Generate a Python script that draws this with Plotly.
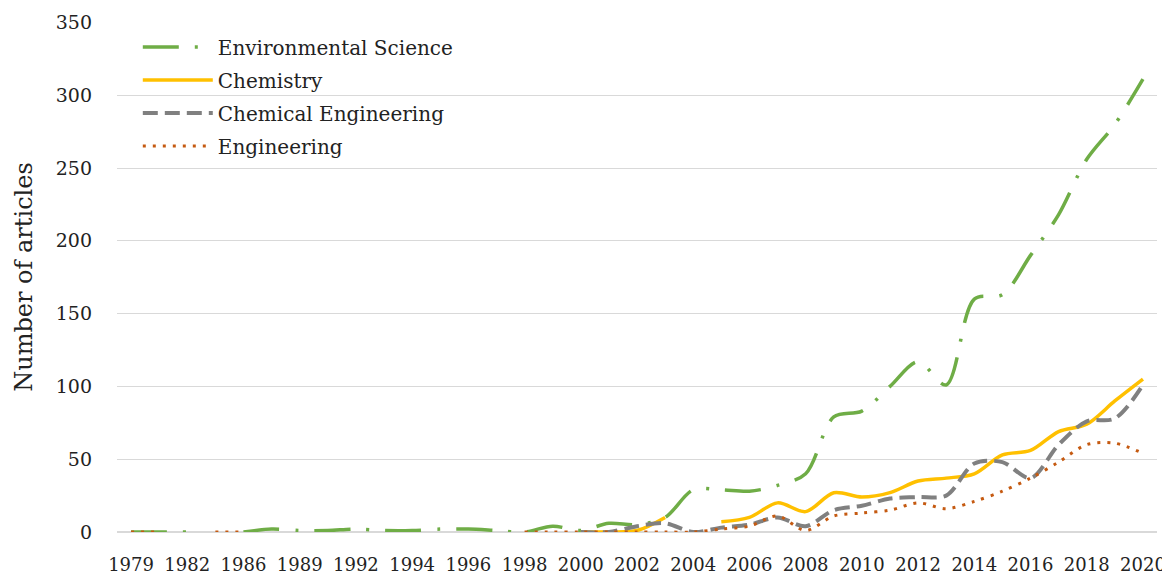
import plotly.graph_objects as go

# categories (the unlabeled ones between labeled years are guesses)
years = ["1979", "1981", "1982", "1984", "1986", "1987", "1989", "1990"] + [str(y) for y in range(1992, 2021)]

env_science = [0, 0, 0, None, 0, 2, 1, 1,
               2, 1, 1, 2, 2, 1, 0, 4, 1, 6, 5, 10, 29, 29, 28, 32, 40,
               79, 83, 100, 117, 101, 160, 163, 190, 218, 256, 280, 311]
chemistry = [None] * 16 + [0, 0, 1, 10, None, 7, 10, 20, 14,
                           27, 24, 27, 35, 37, 40, 53, 56, 69, 74, 90, 105]
chem_eng = [None] * 16 + [0, 0, 4, 6, 0, 3, 5, 10, 4,
                          15, 18, 23, 24, 25, 47, 48, 37, 60, 76, 78, 101]
engineering = [0, 0, None, 0, 0] + [None] * 9 + [0, 0, 0, 0, 0, 0, 0, 2, 4, 11, 1,
                                                 11, 13, 15, 20, 16, 21, 28, 37, 48, 60, 61, 54]

series = [
    ("Environmental Science", env_science, "#6FAD46", 3.5, "36px,16px,3px,16px"),
    ("Chemistry", chemistry, "#FFC000", 3.5, "solid"),
    ("Chemical Engineering", chem_eng, "#808080", 4, "15px,7px"),
    ("Engineering", engineering, "#C55A11", 3, "3px,7px"),
]

FONT = "DejaVu Serif"

fig = go.Figure()
for i, (name, vals, color, width, dash) in enumerate(series):
    fig.add_trace(go.Scatter(
        x=years, y=vals, name=name, mode="lines",
        line=dict(color=color, width=width, dash=dash, shape="spline", smoothing=0.9),
        connectgaps=False, legendgroup=str(i), hoverinfo="skip",
    ))

# page body has an 8px margin, so the figure is a bit smaller than the window
fig.update_layout(
    width=1162, height=568,
    margin=dict(l=109, r=13, t=14, b=44),
    plot_bgcolor="white", paper_bgcolor="white",
    font=dict(family=FONT, size=18, color="#222222"),
    showlegend=True,
    legend=dict(
        x=0.02, y=0.989, xanchor="left", yanchor="top",
        font=dict(family=FONT, size=20, color="#222222"),
        bgcolor="rgba(0,0,0,0)", itemwidth=70, tracegroupgap=4,
        traceorder="grouped",
    ),
)
fig.update_xaxes(
    type="category", range=[-0.5, len(years) - 0.5],
    tickmode="array", tickvals=years[::2],
    showgrid=False, showline=False, ticks="", ticklabelstandoff=20,
    tickfont=dict(size=18), automargin=False,
)
fig.update_yaxes(
    range=[0, 350.3], tickvals=[0, 50, 100, 150, 200, 250, 300, 350],
    showgrid=True, gridcolor="#D9D9D9", gridwidth=1,
    zeroline=True, zerolinecolor="#D9D9D9", zerolinewidth=1.5,
    showline=False, ticks="", ticklabelstandoff=24,
    tickfont=dict(size=19), automargin=False,
    title=dict(text="Number of articles", font=dict(family=FONT, size=24), standoff=16),
)

fig.write_html("out.html")
